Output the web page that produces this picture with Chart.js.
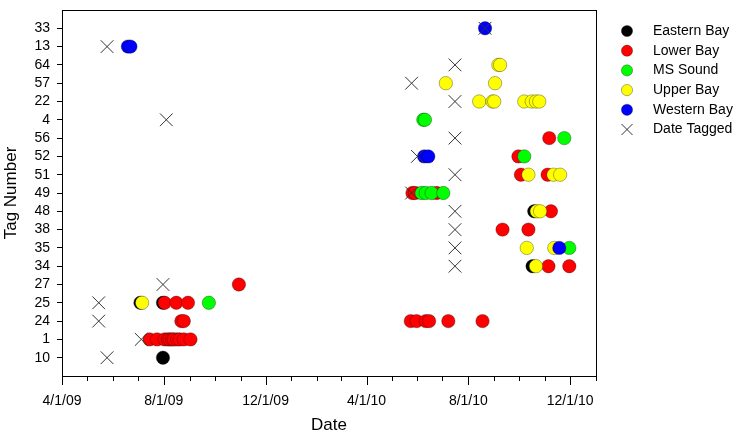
<!DOCTYPE html>
<html>
<head>
<meta charset="utf-8">
<script src="https://cdn.jsdelivr.net/npm/chart.js@4.4.0/dist/chart.umd.min.js"></script>
<style>
  html, body { margin: 0; padding: 0; background: #fff; }
  #wrap { width: 742px; height: 439px; }
</style>
</head>
<body>
<div id="wrap"><canvas id="tagChart" width="742" height="439"></canvas></div>
<script>
// Tag numbers on the y axis, bottom to top
const tagLabels = ['10', '1', '24', '25', '27', '34', '35', '38', '48', '49', '51', '52', '56', '4', '22', '57', '64', '13', '33'];

// Date axis: start/end, labelled ticks
const axisStart = '2009-04-01';
const axisEnd = '2011-01-01';
const majorTickDates = ['2009-04-01', '2009-08-01', '2009-12-01', '2010-04-01', '2010-08-01', '2010-12-01'];
const majorTickLabels = ['4/1/09', '8/1/09', '12/1/09', '4/1/10', '8/1/10', '12/1/10'];

// Detections per area: [date, tag]
const easternBay = [
    ['2009-07-31', '10'], ['2009-07-04', '25'], ['2009-07-31', '25'],
    ['2010-10-19', '48'], ['2010-10-17', '34']
];
const lowerBay = [
    ['2009-07-15', '1'], ['2009-07-24', '1'], ['2009-08-02', '1'], ['2009-08-06', '1'], ['2009-08-08', '1'],
    ['2009-08-11', '1'], ['2009-08-13', '1'], ['2009-08-17', '1'], ['2009-08-20', '1'], ['2009-08-25', '1'],
    ['2009-09-02', '1'],
    ['2009-08-22', '24'], ['2009-08-25', '24'],
    ['2009-08-02', '25'], ['2009-08-16', '25'], ['2009-08-30', '25'],
    ['2009-10-30', '27'],
    ['2010-05-24', '24'], ['2010-05-31', '24'], ['2010-06-11', '24'], ['2010-06-15', '24'], ['2010-07-08', '24'], ['2010-08-18', '24'],
    ['2010-05-26', '49'], ['2010-05-29', '49'], ['2010-06-24', '49'],
    ['2010-11-06', '56'], ['2010-09-30', '52'],
    ['2010-10-03', '51'], ['2010-11-04', '51'],
    ['2010-11-08', '48'],
    ['2010-09-11', '38'], ['2010-10-12', '38'],
    ['2010-11-05', '34'], ['2010-11-30', '34']
];
const msSound = [
    ['2009-09-24', '25'],
    ['2010-06-08', '4'], ['2010-06-10', '4'],
    ['2010-11-24', '56'], ['2010-10-07', '52'],
    ['2010-06-06', '49'], ['2010-06-11', '49'], ['2010-06-18', '49'], ['2010-07-02', '49'],
    ['2010-11-30', '35']
];
const upperBay = [
    ['2009-07-06', '25'],
    ['2010-09-06', '64'], ['2010-09-08', '64'],
    ['2010-07-05', '57'], ['2010-09-02', '57'],
    ['2010-08-14', '22'], ['2010-08-30', '22'], ['2010-09-01', '22'], ['2010-10-07', '22'],
    ['2010-10-16', '22'], ['2010-10-21', '22'], ['2010-10-25', '22'],
    ['2010-10-12', '51'], ['2010-11-11', '51'], ['2010-11-19', '51'],
    ['2010-10-22', '48'], ['2010-10-26', '48'],
    ['2010-10-10', '35'], ['2010-11-12', '35'],
    ['2010-10-21', '34']
];
const westernBay = [
    ['2009-06-19', '13'], ['2009-06-22', '13'],
    ['2010-08-21', '33'],
    ['2010-06-09', '52'], ['2010-06-14', '52'],
    ['2010-11-18', '35']
];
const dateTagged = [
    ['2009-05-25', '13'], ['2009-08-04', '4'], ['2009-07-31', '27'], ['2009-05-15', '25'],
    ['2009-05-15', '24'], ['2009-07-05', '1'], ['2009-05-25', '10'],
    ['2010-08-21', '33'], ['2010-07-16', '64'], ['2010-05-25', '57'], ['2010-07-16', '22'],
    ['2010-07-16', '56'], ['2010-06-01', '52'], ['2010-07-16', '51'], ['2010-05-25', '49'],
    ['2010-07-16', '48'], ['2010-07-16', '38'], ['2010-07-16', '35'], ['2010-07-16', '34']
];

// Days since the start of the axis
function dayOf(s) {

    const [y, m, d] = s.split('-').map(Number);
    const [y0, m0, d0] = axisStart.split('-').map(Number);
    return (Date.UTC(y, m - 1, d) - Date.UTC(y0, m0 - 1, d0)) / 86400000;
}

function toPoints(list) {

    return list.map(p => ({ x: dayOf(p[0]), y: tagLabels.indexOf(p[1]) + 1 }));
}

// one tick per month start
const monthTicks = [];
for (let y = 2009, m = 4; ; m++) {

    if (m > 12) { m = 1; y++; }
    monthTicks.push(dayOf(`${y}-${String(m).padStart(2, '0')}-01`));
    if (y === 2011) break;
}
const majorTicks = majorTickDates.map(dayOf);

const FONT = 'Arial, "Liberation Sans", sans-serif';

// Frame round the plot and the date tick marks
const framePlugin = {

    id: 'frame',
    afterDraw(chart) {

        const { ctx, chartArea: a } = chart;
        const xs = chart.scales.x;
        ctx.save();
        ctx.strokeStyle = '#000';
        ctx.lineWidth = 1;
        ctx.strokeRect(Math.round(a.left) + 0.5, Math.round(a.top) + 0.5,
            Math.round(a.right - a.left), Math.round(a.bottom - a.top));
        ctx.beginPath();
        monthTicks.forEach(v => {

            const px = Math.round(xs.getPixelForValue(v)) + 0.5;
            const len = majorTicks.includes(v) ? 9 : 5;
            ctx.moveTo(px, Math.round(a.bottom));
            ctx.lineTo(px, Math.round(a.bottom) + len);
        });
        ctx.stroke();
        ctx.restore();
    }
};

// Legend at the right, drawn from the datasets
const legendPlugin = {

    id: 'sideLegend',
    afterDraw(chart) {

        const ctx = chart.ctx;
        ctx.save();
        ctx.font = `14px ${FONT}`;
        ctx.textBaseline = 'middle';
        chart.data.datasets.forEach((ds, i) => {

            const cx = 627;
            const cy = 31 + i * 19.7;
            if (ds.pointStyle === 'crossRot') {

                const r = 5.5;
                ctx.strokeStyle = ds.borderColor;
                ctx.lineWidth = 1;
                ctx.beginPath();
                ctx.moveTo(cx - r, cy - r); ctx.lineTo(cx + r, cy + r);
                ctx.moveTo(cx + r, cy - r); ctx.lineTo(cx - r, cy + r);
                ctx.stroke();
            }
            else {

                ctx.fillStyle = ds.backgroundColor;
                ctx.strokeStyle = ds.borderColor;
                ctx.lineWidth = 0.7;
                ctx.beginPath();
                ctx.arc(cx, cy, 5.6, 0, Math.PI * 2);
                ctx.fill();
                ctx.stroke();
            }
            ctx.fillStyle = '#000';
            ctx.fillText(ds.label, 653, cy);
        });
        ctx.restore();
    }
};

function circleSet(label, data, color, order) {

    return {
        label: label,
        data: toPoints(data),
        pointStyle: 'circle',
        pointRadius: 6.7,
        backgroundColor: color,
        borderColor: 'rgba(0,0,0,0.45)',
        borderWidth: 0.7,
        order: order
    };
}

function initializeChart() {

    const ctx = document.getElementById('tagChart').getContext('2d');

    new Chart(ctx, {

        type: 'scatter',
        data: {

            datasets: [
                circleSet('Eastern Bay', easternBay, '#000000', 6),
                circleSet('Lower Bay', lowerBay, '#ff0000', 5),
                circleSet('MS Sound', msSound, '#00ff00', 4),
                circleSet('Upper Bay', upperBay, '#ffff00', 3),
                circleSet('Western Bay', westernBay, '#0000ff', 2),
                {
                    label: 'Date Tagged',
                    data: toPoints(dateTagged),
                    pointStyle: 'crossRot',
                    pointRadius: 9,
                    borderColor: '#333333',
                    backgroundColor: '#333333',
                    borderWidth: 1,
                    order: 1
                }
            ]
        },
        options: {

            responsive: false,
            devicePixelRatio: 1,
            animation: false,
            events: [],
            layout: { padding: { left: 0, right: 146, top: 3, bottom: 0 } },
            plugins: {
                legend: { display: false },
                tooltip: { enabled: false }
            },
            scales: {

                x: {
                    type: 'linear',
                    min: dayOf(axisStart),
                    max: dayOf(axisEnd),
                    afterFit: s => {
                        s.height = 63;
                        s.paddingLeft = 0;
                        s.paddingRight = 0;
                    },
                    afterBuildTicks: s => { s.ticks = monthTicks.map(v => ({ value: v })); },
                    ticks: {
                        autoSkip: false,
                        maxRotation: 0,
                        padding: 17,
                        color: '#000',
                        font: { family: FONT, size: 14 },
                        callback: v => {
                            const i = majorTicks.indexOf(v);
                            return i >= 0 ? majorTickLabels[i] : '';
                        }
                    },
                    grid: { display: false, drawTicks: false },
                    border: { display: false },
                    title: {
                        display: true,
                        text: 'Date',
                        color: '#000',
                        font: { family: FONT, size: 17 },
                        padding: { top: 0, bottom: 3 }
                    }
                },
                y: {
                    type: 'linear',
                    min: 0,
                    max: tagLabels.length + 1,
                    afterFit: s => {
                        s.width = 62;
                        s.paddingTop = 0;
                        s.paddingBottom = 0;
                    },
                    afterBuildTicks: s => { s.ticks = tagLabels.map((t, i) => ({ value: i + 1 })); },
                    ticks: {
                        autoSkip: false,
                        padding: 7,
                        color: '#000',
                        font: { family: FONT, size: 14 },
                        callback: v => tagLabels[v - 1] || ''
                    },
                    grid: { drawOnChartArea: false, tickLength: 5, color: '#000', tickColor: '#000' },
                    border: { display: false },
                    title: {
                        display: true,
                        text: 'Tag Number',
                        color: '#000',
                        font: { family: FONT, size: 17 },
                        padding: { top: 1, bottom: 0 }
                    }
                }
            }
        },
        plugins: [framePlugin, legendPlugin]
    });
}

window.onload = function () {

    initializeChart();
};
</script>
</body>
</html>
